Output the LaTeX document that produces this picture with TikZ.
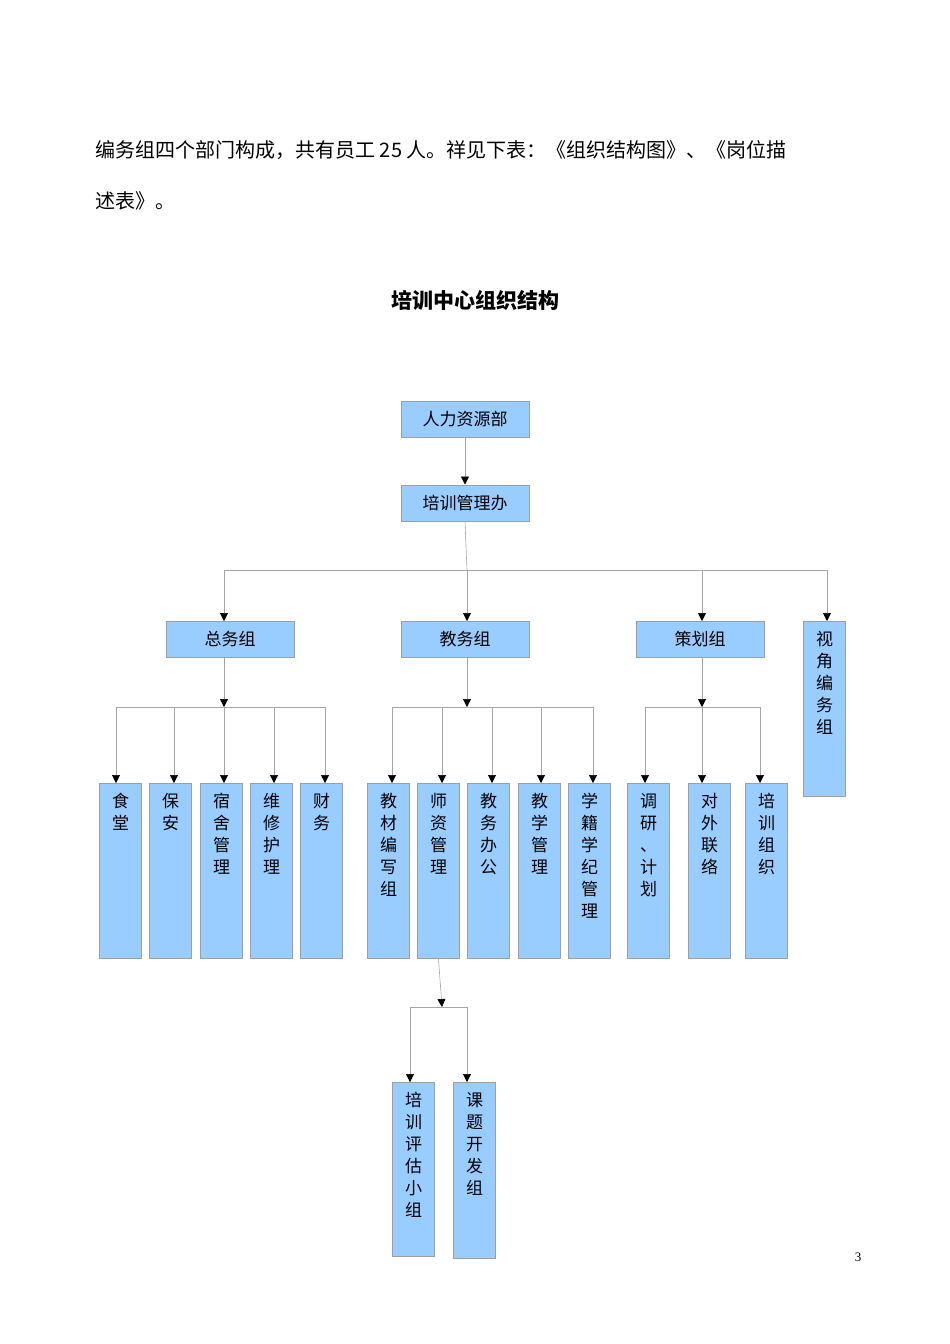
\documentclass[tikz,border=0pt]{standalone}
\usepackage{fontspec}
\setmainfont{Liberation Serif}
\newfontfamily\cjk{Noto Sans CJK SC}
\usetikzlibrary{arrows.meta,positioning}
\definecolor{boxblue}{HTML}{99CCFF}
\tikzset{
  box/.style={fill=boxblue, draw=gray!75, line width=1pt, minimum width=128pt, minimum height=36pt, inner sep=0pt, font=\cjk\fontsize{17}{17}\selectfont},
  tall/.style={fill=boxblue, draw=gray!75, line width=1pt, minimum width=42pt, minimum height=#1, anchor=north west, inner sep=0pt},
  vtext/.style={anchor=north, align=center, font=\cjk\fontsize{17}{22}\selectfont, inner sep=0pt},
  link/.style={draw=gray!70, line width=0.6pt},
  arr/.style={link, -{Triangle[length=8pt,width=8pt,color=black]}}
}
\begin{document}
\begin{tikzpicture}[x=1pt,y=-1pt]
\useasboundingbox (0,0) rectangle (950,1344);
% text above the chart
\node[anchor=west, font=\cjk\fontsize{20}{20}\selectfont] (p1) at (92,150) {编务组四个部门构成，共有员工 25 人。祥见下表：《组织结构图》、《岗位描};
\node[anchor=west, font=\cjk\fontsize{20}{20}\selectfont] (p2) at (92,201) {述表》。};
\node[font=\cjk\bfseries\fontsize{21}{21}\selectfont] (title) at (475,300) {培训中心组织结构};
\node[font=\fontsize{13}{13}\selectfont] (page) at (858,1257) {3};

% upper levels
\node[box] (hr) at (465,419) {人力资源部};
\node[box] (pm) at (465,503) {培训管理办};
\node[box] (zw) at (230,639) {总务组};
\node[box] (jw) at (465,639) {教务组};
\node[box] (ch) at (700,639) {策划组};
\node[tall=175pt] (sj) at (803,621) {};
\node[vtext] at ([yshift=-10pt]sj.north) {视\\角\\编\\务\\组};

\draw[arr] (hr.south) -- (pm.north);
\coordinate (busA) at (467,570);
\draw[link] (pm.south) -- (busA);
\draw[link] (224,570) -- (827,570);
\foreach \x in {224,467,702,827} \draw[arr] (\x,570) -- (\x,621);

% third level
\foreach \x/\name/\txt in {
  99/sh/食\\堂, 149/ba/保\\安, 200/ss/宿\\舍\\管\\理, 250/wx/维\\修\\护\\理, 300/cw/财\\务,
  367/jc/教\\材\\编\\写\\组, 417/sz/师\\资\\管\\理, 467/jb/教\\务\\办\\公, 518/jx/教\\学\\管\\理, 568/xj/学\\籍\\学\\纪\\管\\理,
  627/dy/调\\研\\、\\计\\划, 688/dw/对\\外\\联\\络, 745/px/培\\训\\组\\织}{
  \node[tall=175pt] (\name) at (\x,783) {};
  \node[vtext] at ([yshift=-10pt]\name.north) {\txt};
}
\coordinate (zwB) at (224,707);
\coordinate (jwB) at (467,707);
\coordinate (chB) at (702,707);
\draw[arr] (224,657) -- (zwB);
\draw[arr] (467,657) -- (jwB);
\draw[arr] (702,657) -- (chB);
\draw[link] (116,707) -- (325,707);
\draw[link] (392,707) -- (593,707);
\draw[link] (645,707) -- (760,707);
\foreach \x in {116,174,224,274,325,392,442,492,541,593,645,702,760}
  \draw[arr] (\x,707) -- (\x,783);

% fourth level
\node[tall=174pt] (pg) at (392,1082) {};
\node[vtext] at ([yshift=-10pt]pg.north) {培\\训\\评\\估\\小\\组};
\node[tall=176pt] (kt) at (453,1082) {};
\node[vtext] at ([yshift=-10pt]kt.north) {课\\题\\开\\发\\组};
\coordinate (szB) at (442,1007);
\draw[arr] (sz.south) -- (szB);
\draw[link] (410,1007) -- (467,1007);
\draw[arr] (410,1007) -- (410,1082);
\draw[arr] (467,1007) -- (467,1082);
\end{tikzpicture}
\end{document}
